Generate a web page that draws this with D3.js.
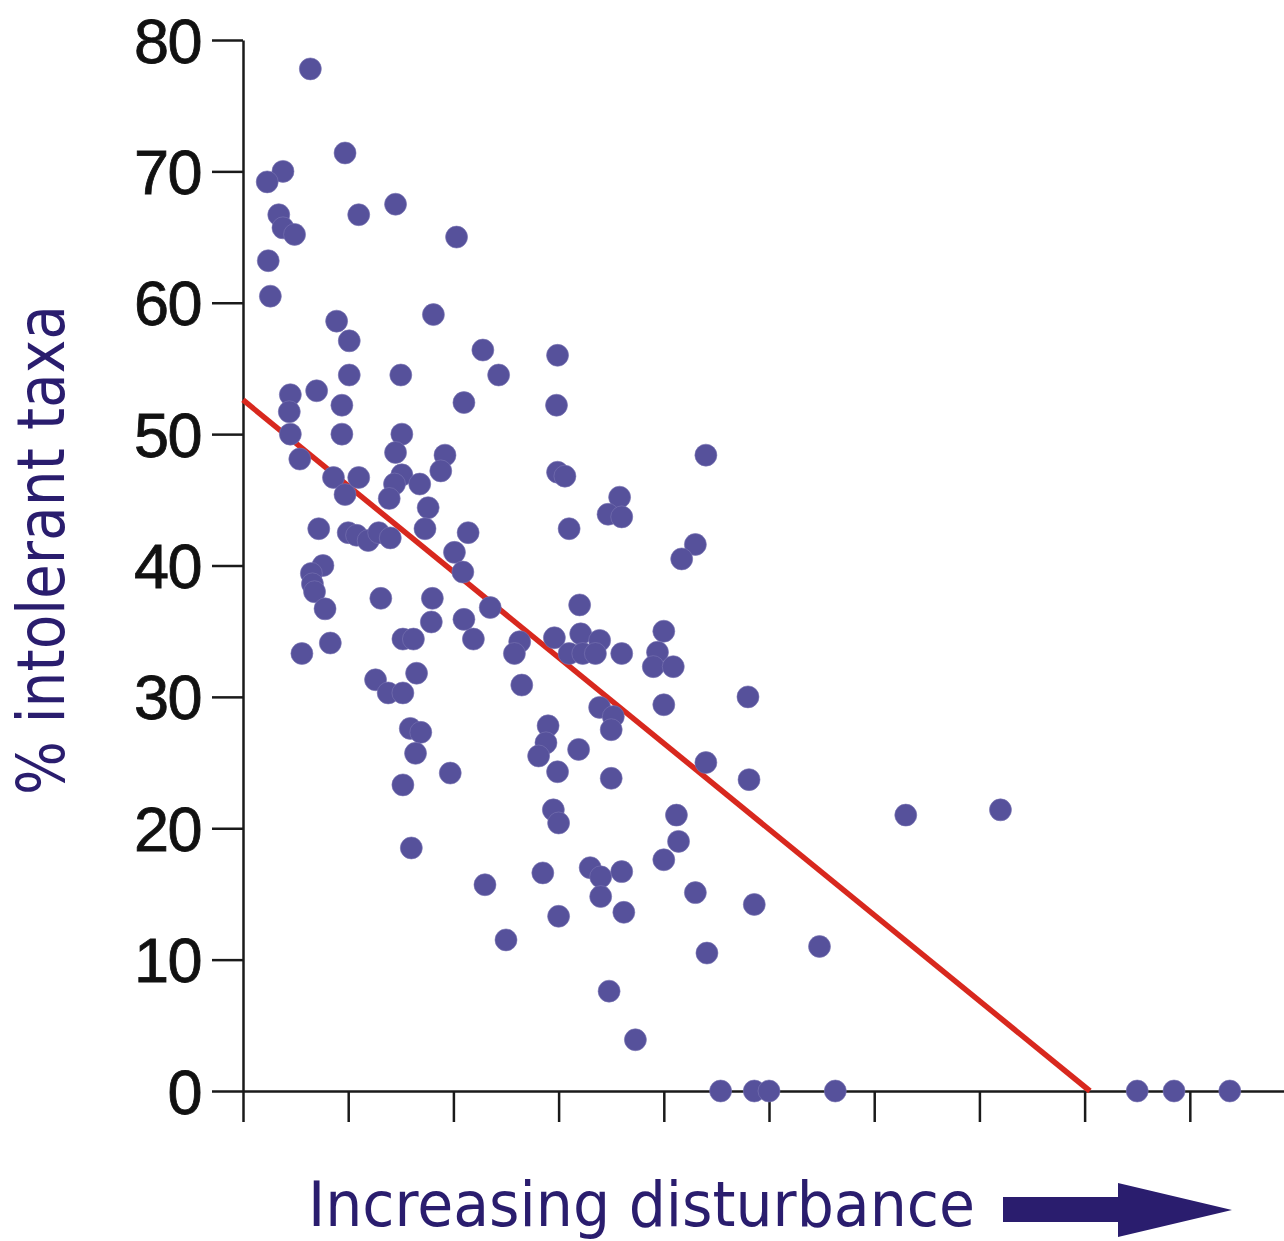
<!DOCTYPE html>
<html>
<head>
<meta charset="utf-8">
<script src="https://cdn.jsdelivr.net/npm/d3@7"></script>
<style>
  body { margin: 0; background: #fff; }
  svg { display: block; }
</style>
</head>
<body>
<script>
// disturbance (x, in tick units of 10) and % intolerant taxa (y)
const disturbance = [
  6.4, 9.7, 3.8, 2.3, 3.4, 3.8, 4.9, 11.0, 14.5, 20.3, 2.4, 2.6, 8.9, 10.1, 18.1, 22.8,
  24.3, 10.1, 15.0, 4.5, 7.0, 4.4, 9.4, 21.0, 4.5, 9.4, 15.1, 5.4, 14.5, 19.2, 18.8,
  8.6, 11.0, 9.7, 15.1, 14.4, 16.8, 13.9, 17.6, 17.3, 7.2, 10.0, 10.8, 11.9, 12.9, 14.0,
  21.4, 20.1, 7.6, 20.9, 23.5, 6.5, 6.6, 6.8, 7.8, 13.1, 18.0, 17.9, 21.0, 21.9, 15.2,
  16.2, 8.3, 5.6, 12.6, 13.8, 15.2, 16.5, 15.9, 16.9, 16.4, 19.7, 15.2, 16.0, 23.0,
  29.9, 29.8, 29.9, 30.6, 35.8, 34.7, 36.0, 31.0, 32.0, 26.3, 25.8, 26.5, 29.6, 32.1,
  33.9, 31.0, 32.3, 33.5, 36.0, 40.0, 39.4, 39.0, 40.9, 40.0, 33.9, 35.2, 35.0, 29.0,
  28.8, 28.1, 31.9, 29.9, 35.0, 29.5, 30.0, 41.2, 41.4, 40.0, 28.5, 33.0, 34.0, 36.0,
  34.0, 36.2, 30.0, 25.0, 34.8, 37.3, 44.0, 43.0, 41.7, 48.0, 44.0, 48.1, 43.0, 48.6,
  44.1, 54.8, 63.0, 72.0, 45.4, 48.6, 50.0, 56.3, 85.0, 88.5, 93.8
];
const intolerant = [
  77.8, 71.4, 70.0, 69.2, 66.7, 65.7, 65.2, 66.7, 67.5, 65.0, 63.2, 60.5, 58.6, 57.1, 59.1, 56.4,
  54.5, 54.5, 54.5, 53.0, 53.3, 51.7, 52.2, 52.4, 50.0, 50.0, 50.0, 48.1, 48.6, 48.4, 47.2,
  46.7, 46.7, 45.4, 46.9, 46.2, 46.2, 45.1, 44.4, 42.8, 42.8, 42.5, 42.3, 41.9, 42.5, 42.1,
  42.5, 41.0, 40.0, 39.5, 36.8, 39.4, 38.6, 38.0, 36.7, 37.5, 37.5, 35.7, 35.9, 34.4, 34.4,
  34.4, 34.1, 33.3, 31.3, 30.3, 30.3, 31.8, 27.6, 27.3, 25.7, 24.2, 23.3, 18.5, 15.7,
  56.0, 52.2, 47.1, 46.8, 45.2, 43.9, 43.7, 42.8, 37.0, 34.2, 33.3, 30.9, 34.5, 34.8,
  34.3, 33.3, 33.3, 33.3, 33.3, 35.0, 33.4, 32.3, 32.3, 29.4, 29.2, 28.5, 27.5, 27.8,
  26.5, 25.5, 26.0, 24.3, 23.8, 21.4, 20.4, 21.0, 19.0, 17.6, 16.6, 17.0, 16.3, 16.7,
  14.8, 13.6, 13.3, 11.5, 7.6, 3.9, 48.4, 41.6, 40.5, 30.0, 25.0, 23.7, 15.1, 14.2,
  10.5, 11.0, 21.0, 21.4, 0, 0, 0, 0, 0, 0, 0
];
// fitted regression line end points
const fitX = [0, 80.5];
const fitY = [52.6, 0];

const yTicks = [0, 10, 20, 30, 40, 50, 60, 70, 80];
const xTicks = [0, 10, 20, 30, 40, 50, 60, 70, 80, 90];

const width = 1284, height = 1241;

const svg = d3.select('body')
  .append('svg')
  .attr('width', width)
  .attr('height', height);

const x = d3.scaleLinear()
  .domain([0, 99])
  .range([243, 1284.5]);

const y = d3.scaleLinear()
  .domain([0, 80])
  .range([1091, 40]);

// axes
const xAxis = svg.append('g')
  .attr('transform', `translate(0, ${y(0)})`)
  .call(d3.axisBottom(x).tickValues(xTicks).tickSize(31).tickSizeOuter(0).tickFormat(''));

const yAxis = svg.append('g')
  .attr('transform', `translate(${x(0)}, 0)`)
  .call(d3.axisLeft(y).tickValues(yTicks).tickSize(31).tickSizeOuter(0).tickPadding(11));

svg.selectAll('.domain, .tick line')
  .attr('stroke', '#1a1a1a')
  .attr('stroke-width', 2.5);

yAxis.selectAll('.tick text')
  .attr('font-family', '"Liberation Sans", Arial, sans-serif')
  .attr('font-size', 63)
  .attr('letter-spacing', -1.5)
  .attr('stroke', '#111')
  .attr('stroke-width', 0.8)
  .attr('fill', '#111')
  .attr('dy', '0.35em');

// regression line
svg.append('line')
  .attr('x1', x(fitX[0]))
  .attr('y1', y(fitY[0]))
  .attr('x2', x(fitX[1]))
  .attr('y2', y(fitY[1]))
  .attr('stroke', '#d8281e')
  .attr('stroke-width', 5.5);

// points
const pts = disturbance.map((d, i) => ({ x: d, y: intolerant[i] }));

svg.append('g')
  .selectAll('circle')
  .data(pts)
  .join('circle')
  .attr('cx', d => x(d.x))
  .attr('cy', d => y(d.y))
  .attr('r', 11)
  .attr('fill', '#56519b')
  .attr('stroke', '#7a76b4')
  .attr('stroke-width', 0.6);

// titres
const titleColor = '#2a1d6e';

svg.append('text')
  .attr('transform', 'translate(64, 550) rotate(-90)')
  .attr('text-anchor', 'middle')
  .attr('font-family', '"DejaVu Sans Condensed", "DejaVu Sans", sans-serif')
  .attr('font-size', 66)
  .attr('fill', titleColor)
  .attr('textLength', 490)
  .attr('lengthAdjust', 'spacingAndGlyphs')
  .text('% intolerant taxa');

svg.append('text')
  .attr('x', 308)
  .attr('y', 1226)
  .attr('font-family', '"DejaVu Sans Condensed", "DejaVu Sans", sans-serif')
  .attr('font-size', 62)
  .attr('fill', titleColor)
  .attr('textLength', 667)
  .attr('lengthAdjust', 'spacingAndGlyphs')
  .text('Increasing disturbance');

// flèche
svg.append('path')
  .attr('d', 'M1003,1197 L1118,1197 L1118,1183 L1232,1210 L1118,1237 L1118,1222 L1003,1222 Z')
  .attr('fill', titleColor);
</script>
</body>
</html>
